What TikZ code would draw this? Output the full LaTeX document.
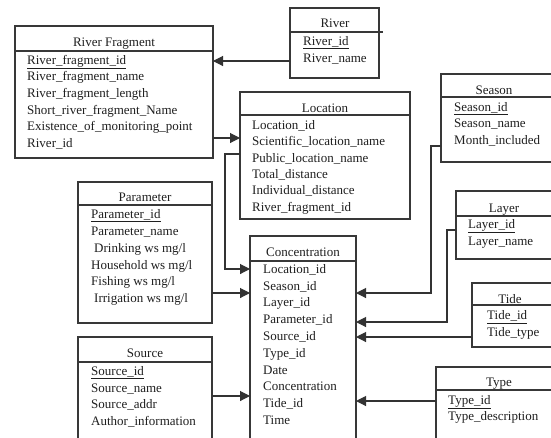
\documentclass[tikz,border=0pt]{standalone}
\usepackage{fontspec}
\setmainfont{Liberation Serif}
\usetikzlibrary{arrows.meta,calc}
\begin{document}
\begin{tikzpicture}[x=1pt,y=-1pt,
  box/.style={draw=black!78, line width=1.2pt, anchor=north west, inner sep=0pt, outer sep=0pt},
  hline/.style={draw=black!78, line width=1.2pt},
  row/.style={anchor=west, inner sep=0pt, text height=8.5pt, text depth=0pt, text=black!88, font=\fontsize{13}{15}\selectfont},
  ttl/.style={anchor=center, inner sep=0pt, text height=8.5pt, text depth=0pt, text=black!88, font=\fontsize{13}{15}\selectfont},
  conn/.style={draw=black!80, line width=1.1pt},
  arr/.style={conn, -{Triangle[length=10pt,width=10pt]}}]
\useasboundingbox (0,0) rectangle (551,437);
\clip (0,0) rectangle (551,437);
\fill[white] (0,0) rectangle (551,437);

% River Fragment
\node[box, minimum width=198pt, minimum height=132pt] (rf) at (15,26) {};
\draw[hline] ($(rf.north west)+(0,25)$) -- ($(rf.north east)+(0,25)$);
\node[ttl] (rft) at (114,42) {River Fragment};
\node[row] (rf1) at (27,60) {\underline{River\_fragment\_id}};
\node[row] (rf2) at (27,76.6) {River\_fragment\_name};
\node[row] (rf3) at (27,93.2) {River\_fragment\_length};
\node[row] (rf4) at (27,109.8) {Short\_river\_fragment\_Name};
\node[row] (rf5) at (27,126.4) {Existence\_of\_monitoring\_point};
\node[row] (rf6) at (27,143) {River\_id};

% River
\node[box, minimum width=89pt, minimum height=70pt] (river) at (290,8) {};
\draw[hline] ($(river.north west)+(0,24)$) -- ($(river.north east)+(4,24)$);
\node[ttl] (rivert) at (335,23) {River};
\node[row] (river1) at (303,41) {\underline{River\_id}};
\node[row] (river2) at (303,58) {River\_name};

% Location
\node[box, minimum width=170pt, minimum height=127pt] (loc) at (240,92) {};
\draw[hline] ($(loc.north west)+(0,23)$) -- ($(loc.north east)+(0,23)$);
\node[ttl] (loct) at (325,108) {Location};
\node[row] (loc1) at (252,125) {Location\_id};
\node[row] (loc2) at (252,141.4) {Scientific\_location\_name};
\node[row] (loc3) at (252,157.8) {Public\_location\_name};
\node[row] (loc4) at (252,174.2) {Total\_distance};
\node[row] (loc5) at (252,190.6) {Individual\_distance};
\node[row] (loc6) at (252,207) {River\_fragment\_id};

% Parameter
\node[box, minimum width=134pt, minimum height=141pt] (param) at (78,182) {};
\draw[hline] ($(param.north west)+(0,23)$) -- ($(param.north east)+(0,23)$);
\node[ttl] (paramt) at (145,197) {Parameter};
\node[row] (param1) at (91,214) {\underline{Parameter\_id}};
\node[row] (param2) at (91,231.5) {Parameter\_name};
\node[row] (param3) at (94,248.5) {Drinking ws mg/l};
\node[row] (param4) at (91,265) {Household ws mg/l};
\node[row] (param5) at (91,281.5) {Fishing ws mg/l};
\node[row] (param6) at (94,298) {Irrigation ws mg/l};

% Source
\node[box, minimum width=134pt, minimum height=110pt] (src) at (78,337) {};
\draw[hline] ($(src.north west)+(0,25)$) -- ($(src.north east)+(0,25)$);
\node[ttl] (srct) at (145,353) {Source};
\node[row] (src1) at (91,371) {\underline{Source\_id}};
\node[row] (src2) at (91,388) {Source\_name};
\node[row] (src3) at (91,404.5) {Source\_addr};
\node[row] (src4) at (91,421) {Author\_information};

% Concentration
\node[box, minimum width=106pt, minimum height=212pt] (conc) at (250,236) {};
\draw[hline] ($(conc.north west)+(0,25)$) -- ($(conc.north east)+(0,25)$);
\node[ttl] (conct) at (303,252) {Concentration};
\node[row] (conc1) at (263,269) {Location\_id};
\node[row] (conc2) at (263,285.8) {Season\_id};
\node[row] (conc3) at (263,302.6) {Layer\_id};
\node[row] (conc4) at (263,319.4) {Parameter\_id};
\node[row] (conc5) at (263,336.2) {Source\_id};
\node[row] (conc6) at (263,353) {Type\_id};
\node[row] (conc7) at (263,369.8) {Date};
\node[row] (conc8) at (263,386.6) {Concentration};
\node[row] (conc9) at (263,403.4) {Tide\_id};
\node[row] (conc10) at (263,420.2) {Time};

% Season
\node[box, minimum width=125pt, minimum height=88pt] (season) at (441,74) {};
\draw[hline] ($(season.north west)+(0,23)$) -- ($(season.north east)+(0,23)$);
\node[ttl] (seasont) at (494,90) {Season};
\node[row] (season1) at (454,107) {\underline{Season\_id}};
\node[row] (season2) at (454,123.5) {Season\_name};
\node[row] (season3) at (454,140) {Month\_included};

% Layer
\node[box, minimum width=110pt, minimum height=68pt] (layer) at (456,191) {};
\draw[hline] ($(layer.north west)+(0,25)$) -- ($(layer.north east)+(0,25)$);
\node[ttl] (layert) at (504,208) {Layer};
\node[row] (layer1) at (468,224) {\underline{Layer\_id}};
\node[row] (layer2) at (468,241) {Layer\_name};

% Tide
\node[box, minimum width=94pt, minimum height=64pt] (tide) at (472,283) {};
\draw[hline] ($(tide.north west)+(0,22)$) -- ($(tide.north east)+(0,22)$);
\node[ttl] (tidet) at (510,299) {Tide};
\node[row] (tide1) at (487,315.5) {\underline{Tide\_id}};
\node[row] (tide2) at (487,332) {Tide\_type};

% Type
\node[box, minimum width=130pt, minimum height=85pt] (type) at (436,367) {};
\draw[hline] ($(type.north west)+(0,23)$) -- ($(type.north east)+(0,23)$);
\node[ttl] (typet) at (499,382) {Type};
\node[row] (type1) at (448,400) {\underline{Type\_id}};
\node[row] (type2) at (448,416) {Type\_description};

% Connectors
\draw[arr] (river.west |- 0,61) -- (rf.east |- 0,61);
\draw[arr] (rf.east |- 0,138) -- (loc.west |- 0,138);
\draw[arr] (loc.west |- 0,154) -- ++(-15,0) |- (conc.west |- 0,269);
\draw[arr] (param.east |- 0,293) -- (conc.west |- 0,293);
\draw[arr] (src.east |- 0,396) -- (conc.west |- 0,396);
\draw[arr] (season.west |- 0,146) -- ++(-10,0) |- (conc.east |- 0,293);
\draw[arr] (layer.west |- 0,230) -- ++(-9,0) |- (conc.east |- 0,322);
\draw[arr] (tide.west |- 0,337) -- (conc.east |- 0,337);
\draw[arr] (type.west |- 0,401) -- (conc.east |- 0,401);
\end{tikzpicture}
\end{document}
